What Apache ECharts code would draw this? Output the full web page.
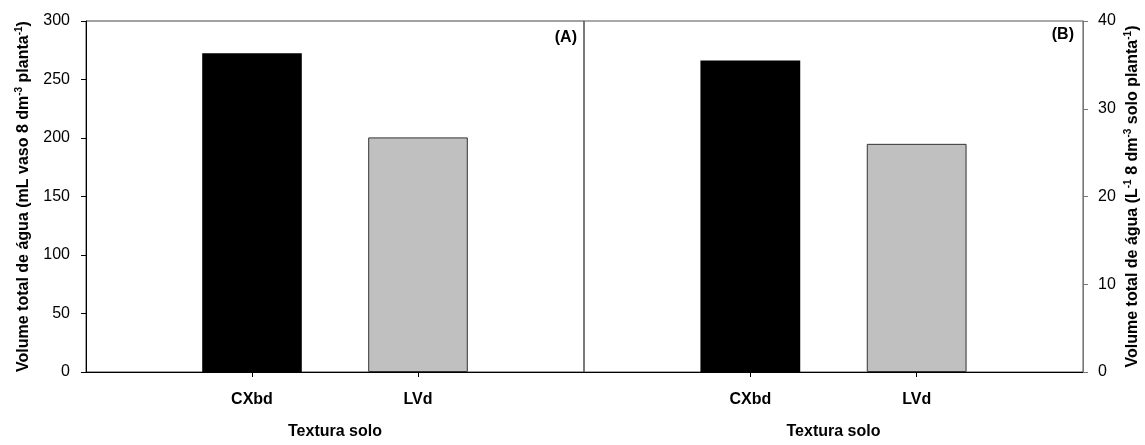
<!DOCTYPE html>
<html>
<head>
<meta charset="utf-8">
<script src="https://cdn.jsdelivr.net/npm/echarts@6/dist/echarts.min.js"></script>
<style>html,body{margin:0;padding:0;background:#fff}#c{width:1145px;height:445px}</style>
</head>
<body>
<div id="c"></div>
<script>
// ---- data ----
const categories = ['CXbd', 'LVd'];
const valuesA = [272.5, 200.5];   // mL vaso 8 dm-3 planta-1
const valuesB = [35.5, 26.0];     // L-1 8 dm-3 solo planta-1
const yTicksA = [0, 50, 100, 150, 200, 250, 300];
const yTicksB = [0, 10, 20, 30, 40];
const xTitle = 'Textura solo';
const panelLabels = ['(A)', '(B)'];

// ---- styles ----
const FONT = '"Liberation Sans", Arial, sans-serif';
const barStyles = [
  { color: '#000000', borderColor: '#000000', borderWidth: 0 },
  { color: '#c0c0c0', borderColor: '#333333', borderWidth: 1 }
];

// pad categories so the two bars sit at 1/3 and 2/3 of the panel
const paddedCats = [''].concat(categories, ['']);
function pad(vals) {
  return [null].concat(vals.map((v, i) => ({ value: v, itemStyle: barStyles[i] })), [null]);
}
const showIdx = (i) => i >= 1 && i <= categories.length;

function xAxisFor(gridIndex) {
  return {
    type: 'category', gridIndex, data: paddedCats, boundaryGap: false,
    axisLine: { lineStyle: { color: '#000', width: 1 } },
    axisTick: { length: 5, lineStyle: { color: '#000' }, interval: (i) => showIdx(i) },
    axisLabel: { interval: (i) => showIdx(i), margin: 20, color: '#000', fontFamily: FONT, fontSize: 16, fontWeight: 'bold' },
    name: xTitle, nameLocation: 'middle', nameGap: 52,
    nameTextStyle: { color: '#000', fontFamily: FONT, fontSize: 16, fontWeight: 'bold' },
    splitLine: { show: false }
  };
}

const richSup = {
  sup: { fontSize: 10, fontFamily: FONT, fontWeight: 'bold', color: '#000', verticalAlign: 'top', lineHeight: 10 }
};

const option = {
  animation: false,
  backgroundColor: '#fff',
  title: [
    { text: panelLabels[0], right: 568, top: 30, padding: 0,
      textStyle: { fontFamily: FONT, fontSize: 16, fontWeight: 'bold', color: '#000' } },
    { text: panelLabels[1], right: 71, top: 27, padding: 0,
      textStyle: { fontFamily: FONT, fontSize: 16, fontWeight: 'bold', color: '#000' } }
  ],
  grid: [
    { left: 86, right: 561, top: 21, bottom: 64, show: true, borderColor: '#444', borderWidth: 1, backgroundColor: 'transparent' },
    { left: 584, right: 62, top: 21, bottom: 64, show: true, borderColor: '#555', borderWidth: 1, backgroundColor: 'transparent' }
  ],
  xAxis: [xAxisFor(0), xAxisFor(1)],
  yAxis: [
    {
      type: 'value', gridIndex: 0, min: yTicksA[0], max: yTicksA[yTicksA.length - 1], interval: yTicksA[1] - yTicksA[0],
      position: 'left',
      axisLine: { show: true, lineStyle: { color: '#000' } },
      axisTick: { show: true, length: 5, lineStyle: { color: '#000' } },
      axisLabel: { margin: 16, color: '#000', fontFamily: FONT, fontSize: 16 },
      splitLine: { show: false },
      name: '{m|Volume total de água (mL vaso 8 dm}{sup|-3}{m| planta}{sup|-1}{m|)}',
      nameLocation: 'middle', nameGap: 52, nameRotate: 90,
      nameTextStyle: {
        color: '#000', fontFamily: FONT, fontSize: 16, fontWeight: 'bold',
        rich: Object.assign({ m: { fontSize: 16, fontFamily: FONT, fontWeight: 'bold', color: '#000', lineHeight: 20 } }, richSup)
      }
    },
    {
      type: 'value', gridIndex: 1, min: yTicksB[0], max: yTicksB[yTicksB.length - 1], interval: yTicksB[1] - yTicksB[0],
      position: 'right',
      axisLine: { show: true, lineStyle: { color: '#777' } },
      axisTick: { show: true, length: 5, lineStyle: { color: '#777' } },
      axisLabel: { margin: 15, color: '#000', fontFamily: FONT, fontSize: 16 },
      splitLine: { show: false },
      name: '{m|Volume total de água (L}{sup|-1}{m| 8 dm}{sup|-3}{m| solo planta}{sup|-1}{m|)}',
      nameLocation: 'middle', nameGap: 40, nameRotate: 90,
      nameTextStyle: {
        color: '#000', fontFamily: FONT, fontSize: 16, fontWeight: 'bold',
        rich: Object.assign({ m: { fontSize: 16, fontFamily: FONT, fontWeight: 'bold', color: '#000', lineHeight: 20 } }, richSup)
      }
    }
  ],
  series: [
    { type: 'bar', xAxisIndex: 0, yAxisIndex: 0, data: pad(valuesA), barWidth: '60%' },
    { type: 'bar', xAxisIndex: 1, yAxisIndex: 1, data: pad(valuesB), barWidth: '60%' }
  ]
};

const chart = echarts.init(document.getElementById('c'), null, { renderer: 'canvas' });
chart.setOption(option);
</script>
</body>
</html>
